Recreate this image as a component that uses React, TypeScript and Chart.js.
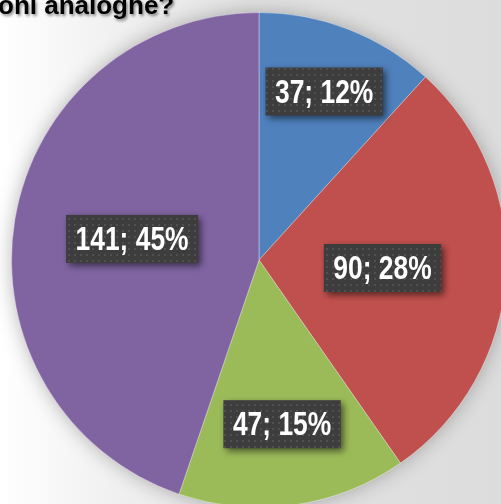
import React, { useEffect, useRef } from "react";
import { Chart, registerables } from "chart.js";

Chart.register(...registerables);

const categories = ["A", "B", "C", "D"];
const values = [37, 90, 47, 141];
const percents = ["12%", "28%", "15%", "45%"];
const colors = ["#4f81bd", "#c0504d", "#9bbb59", "#8064a2"];
const titleText = "oni analoghe?";

const labelRadius = [0.73, 0.5, 0.67, 0.52];

function makePattern(ctx: CanvasRenderingContext2D) {
  const c = document.createElement("canvas");
  c.width = 6;
  c.height = 6;
  const p = c.getContext("2d")!;
  p.fillStyle = "#3d3d3d";
  p.fillRect(0, 0, 6, 6);
  p.fillStyle = "#505050";
  p.fillRect(2, 2, 2, 2);
  return ctx.createPattern(c, "repeat")!;
}

const decorPlugin = {
  id: "decor",
  beforeDatasetsDraw(chart: any) {
    const meta = chart.getDatasetMeta(0);
    const arc = meta.data[0];
    if (!arc) return;
    const ctx = chart.ctx as CanvasRenderingContext2D;
    ctx.save();
    ctx.shadowColor = "rgba(0,0,0,0.3)";
    ctx.shadowBlur = 20;
    ctx.fillStyle = "#888";
    ctx.beginPath();
    ctx.arc(arc.x, arc.y, arc.outerRadius - 1, 0, Math.PI * 2);
    ctx.fill();
    ctx.restore();
  },
  afterDatasetsDraw(chart: any) {
    const ctx = chart.ctx as CanvasRenderingContext2D;
    const meta = chart.getDatasetMeta(0);
    const pattern = makePattern(ctx);
    const sx = 0.8;
    meta.data.forEach((arc: any, i: number) => {
      const mid = (arc.startAngle + arc.endAngle) / 2;
      const r = arc.outerRadius * labelRadius[i];
      const cx = arc.x + Math.cos(mid) * r;
      const cy = arc.y + Math.sin(mid) * r;
      const text = `${values[i]}; ${percents[i]}`;
      ctx.save();
      ctx.font = 'bold 33px "Liberation Sans", Arial, sans-serif';
      const tw = ctx.measureText(text).width * sx;
      const w = tw + 19;
      const h = 48;
      ctx.shadowColor = "rgba(0,0,0,0.55)";
      ctx.shadowBlur = 7;
      ctx.shadowOffsetX = 3;
      ctx.shadowOffsetY = 3;
      ctx.fillStyle = pattern;
      ctx.fillRect(cx - w / 2, cy - h / 2, w, h);
      ctx.shadowColor = "transparent";
      ctx.fillStyle = "#ffffff";
      ctx.textAlign = "center";
      ctx.textBaseline = "middle";
      ctx.translate(cx, cy + 2);
      ctx.scale(sx, 1);
      ctx.fillText(text, 0, 0);
      ctx.restore();
    });
    ctx.save();
    ctx.font = 'bold 26px "Liberation Sans", Arial, sans-serif';
    ctx.shadowColor = "rgba(0,0,0,0.45)";
    ctx.shadowBlur = 3;
    ctx.shadowOffsetX = 1.5;
    ctx.shadowOffsetY = 1.5;
    ctx.fillStyle = "#000";
    ctx.textAlign = "left";
    ctx.textBaseline = "alphabetic";
    ctx.fillText(titleText, -2, 14);
    ctx.restore();
  },
};

export default function App() {
  const ref = useRef<HTMLCanvasElement>(null);
  useEffect(() => {
    const chart = new Chart(ref.current!, {
      type: "pie",
      data: {
        labels: categories,
        datasets: [
          {
            data: values,
            backgroundColor: colors,
            borderColor: "rgba(255,255,255,0.35)",
            borderWidth: 1,
          },
        ],
      },
      options: {
        responsive: false,
        animation: false,
        layout: { padding: { left: 11, top: 12, right: 13, bottom: 12 } },
        plugins: { legend: { display: false }, tooltip: { enabled: false } },
      },
      plugins: [decorPlugin],
    });
    return () => chart.destroy();
  }, []);
  return (
    <div
      style={{
        position: "fixed",
        left: 0,
        top: 0,
        width: 501,
        height: 504,
        overflow: "hidden",
        background:
          "linear-gradient(to right, #ffffff 0%, #f2f2f2 20%, #e2e2e2 50%, #dcdcdc 100%)",
      }}
    >
      <canvas ref={ref} width={520} height={520} style={{ display: "block" }} />
    </div>
  );
}
